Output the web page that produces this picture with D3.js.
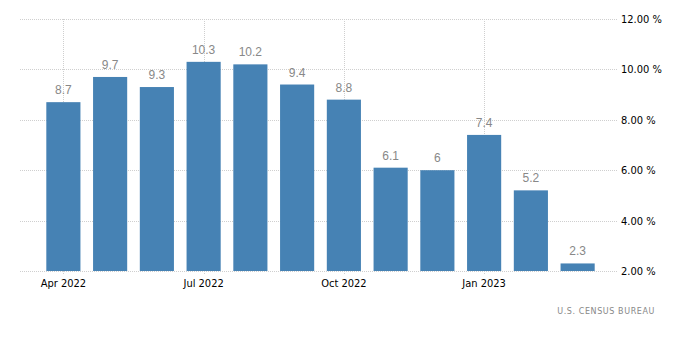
<!DOCTYPE html>
<head>
  <meta charset="utf-8">
  <script src="https://cdn.jsdelivr.net/npm/d3@7"></script>
  <style>
    body { margin:0; background:#fff; }
    .grid line { stroke:#cfcfcf; stroke-dasharray:1,1; }
    .ylab { font-family:"DejaVu Sans Condensed","DejaVu Sans",sans-serif; font-stretch:condensed; font-size:11px; fill:#000; }
    .xlab { font-family:"DejaVu Sans Condensed","DejaVu Sans",sans-serif; font-stretch:condensed; font-size:11px; fill:#000; }
    .val { font-family:"Liberation Sans",Arial,sans-serif; font-size:12px; fill:#888; }
    .src { font-family:"DejaVu Sans",sans-serif; font-size:8px; fill:#888; letter-spacing:0.6px; }
  </style>
</head>
<body>
<script>
var months = ["2022-04","2022-05","2022-06","2022-07","2022-08","2022-09","2022-10","2022-11","2022-12","2023-01","2023-02","2023-03"];
var values = [8.7, 9.7, 9.3, 10.3, 10.2, 9.4, 8.8, 6.1, 6, 7.4, 5.2, 2.3];
var yTicks = [2, 4, 6, 8, 10, 12];
var xTicks = ["2022-04","2022-07","2022-10","2023-01"];
var xTickLabels = ["Apr 2022","Jul 2022","Oct 2022","Jan 2023"];

var width = 700, height = 363;

var svg = d3.select("body").append("svg")
  .attr("width", width)
  .attr("height", height);

var x = d3.scaleBand().domain(months).range([40, 601]).paddingInner(0.27).paddingOuter(0.135);
var y = d3.scaleLinear().domain([2, 12]).range([271, 19]);

var grid = svg.append("g").attr("class", "grid");
grid.selectAll("line.h").data(yTicks).enter().append("line")
  .attr("class", "h")
  .attr("x1", 20).attr("x2", 618)
  .attr("y1", function(d) { return Math.round(y(d)) + 0.5; })
  .attr("y2", function(d) { return Math.round(y(d)) + 0.5; });
grid.selectAll("line.v").data(xTicks).enter().append("line")
  .attr("class", "v")
  .attr("x1", function(d) { return Math.round(x(d) + x.bandwidth() / 2) + 0.5; })
  .attr("x2", function(d) { return Math.round(x(d) + x.bandwidth() / 2) + 0.5; })
  .attr("y1", y(12)).attr("y2", y(2) + 4);

svg.selectAll("text.ylab").data(yTicks).enter().append("text")
  .attr("class", "ylab")
  .attr("x", 621)
  .attr("y", function(d) { return y(d) + 4; })
  .text(function(d) { return d.toFixed(2) + " %"; });

svg.selectAll("text.xlab").data(xTicks).enter().append("text")
  .attr("class", "xlab")
  .attr("text-anchor", "middle")
  .attr("x", function(d) { return x(d) + x.bandwidth() / 2; })
  .attr("y", 287)
  .text(function(d, i) { return xTickLabels[i]; });

svg.selectAll("rect.bar").data(values).enter().append("rect")
  .attr("class", "bar")
  .attr("fill", "#4682b4")
  .attr("x", function(d, i) { return x(months[i]); })
  .attr("width", x.bandwidth())
  .attr("y", function(d) { return y(d); })
  .attr("height", function(d) { return y(2) - y(d); });

svg.selectAll("text.val").data(values).enter().append("text")
  .attr("class", "val")
  .attr("text-anchor", "middle")
  .attr("x", function(d, i) { return x(months[i]) + x.bandwidth() / 2; })
  .attr("y", function(d) { return y(d) - 8; })
  .text(function(d) { return d; });

svg.append("text")
  .attr("class", "src")
  .attr("x", 655).attr("y", 314)
  .attr("text-anchor", "end")
  .text("U.S.  CENSUS BUREAU");
</script>
</body>
